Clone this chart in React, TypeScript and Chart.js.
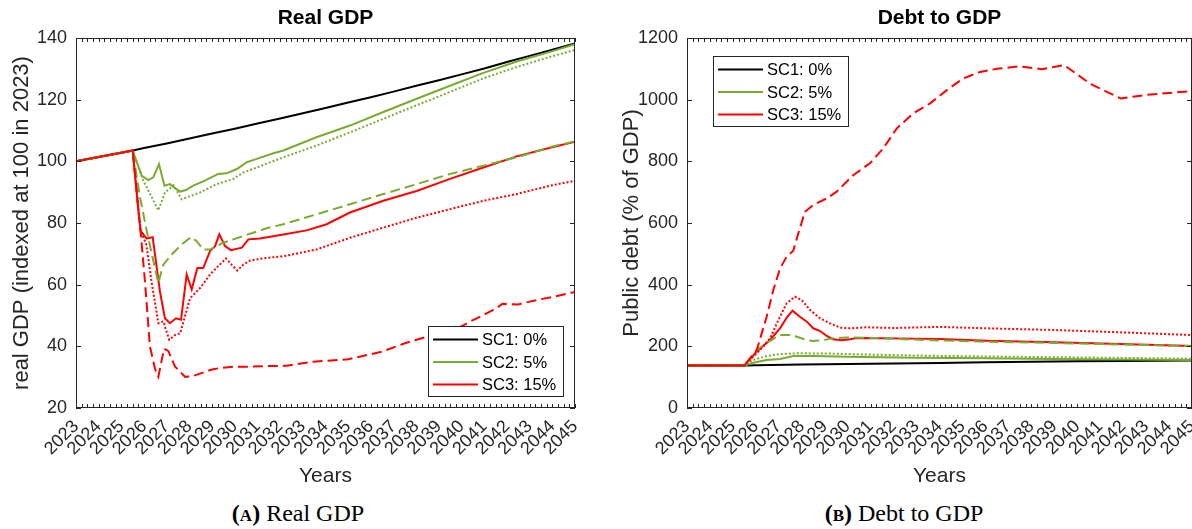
import React, { useEffect, useRef } from 'react';
import { Chart, registerables } from 'chart.js';

Chart.register(...registerables);

// ---------------- DATA ----------------
const scenarioLabels = ['SC1: 0%', 'SC2: 5%', 'SC3: 15%'];
const xTickYears = [2023, 2045];

// Real GDP (indexed at 100 in 2023)
const gdpPreYears = [2023, 2024, 2025, 2025.5];
const gdpPreValues = [100, 101.4, 102.8, 103.5];

const gdpSC1Years = [2026, 2027, 2028, 2029, 2030, 2031, 2032, 2033, 2034, 2035, 2036, 2037, 2038, 2039, 2040, 2041, 2042, 2043, 2044, 2045];
const gdpSC1Values = [104.3, 105.8, 107.4, 109.0, 110.6, 112.3, 113.9, 115.6, 117.3, 119.1, 120.8, 122.6, 124.5, 126.3, 128.2, 130.1, 132.2, 134.2, 136.2, 138.2];

const gdpSC2SolidYears = [2025.9, 2026.19, 2026.41, 2026.66, 2026.9, 2027.14, 2027.37, 2027.59, 2027.85, 2028.17, 2028.61, 2029.27, 2029.64, 2030.09, 2030.53, 2030.97, 2031.7, 2032.14, 2033.6, 2035.08, 2036.55, 2038.02, 2039.49, 2040.96, 2042.43, 2043.9, 2045];
const gdpSC2SolidValues = [95.3, 93.9, 94.8, 99.1, 92.1, 92.6, 91.3, 90.2, 90.7, 92.1, 93.5, 95.9, 96.1, 97.5, 99.7, 100.8, 102.6, 103.5, 107.8, 111.6, 116.0, 120.3, 124.5, 128.7, 132.4, 135.5, 138.0];

const gdpSC2DottedYears = [2025.97, 2026.63, 2026.92, 2027.3, 2027.66, 2028.47, 2029.2, 2029.94, 2030.38, 2030.97, 2032.14, 2033.6, 2035.08, 2036.55, 2038.02, 2039.49, 2040.96, 2042.43, 2043.9, 2045];
const gdpSC2DottedValues = [93.7, 84.1, 89.9, 92.2, 87.7, 89.9, 92.6, 94.3, 96.4, 98.0, 101.3, 105.1, 109.4, 113.8, 118.2, 122.5, 126.9, 130.6, 133.9, 136.1];

const gdpSC2DashedYears = [2025.82, 2026.12, 2026.4, 2026.63, 2026.85, 2027.22, 2027.66, 2028.07, 2028.32, 2028.61, 2028.91, 2029.49, 2030.38, 2031.4, 2032.14, 2033.6, 2035.08, 2036.55, 2038.02, 2039.49, 2040.96, 2042.43, 2043.9, 2045];
const gdpSC2DashedValues = [88.3, 77.4, 68.0, 60.5, 66.5, 69.8, 73.1, 75.4, 74.1, 71.4, 71.4, 73.6, 75.8, 78.3, 79.6, 82.8, 86.1, 89.4, 92.6, 95.9, 98.6, 101.3, 104.6, 106.5];

const gdpSC3SolidYears = [2025.75, 2025.85, 2026.11, 2026.38, 2026.7, 2026.92, 2027.14, 2027.41, 2027.63, 2027.88, 2028.1, 2028.35, 2028.61, 2028.91, 2029.13, 2029.32, 2029.57, 2029.83, 2030.31, 2030.6, 2031.11, 2032.14, 2033.17, 2034.05, 2035.08, 2036.55, 2038.02, 2039.49, 2040.96, 2042.43, 2043.9, 2045];
const gdpSC3SolidValues = [83.9, 77.4, 75.0, 75.4, 57.8, 49.1, 47.5, 49.1, 48.6, 63.3, 58.4, 65.4, 65.4, 70.9, 72.5, 76.3, 72.5, 71.2, 72.0, 74.7, 75.0, 76.3, 77.6, 79.6, 83.4, 87.2, 90.4, 94.3, 98.0, 101.6, 104.4, 106.4];

const gdpSC3DottedYears = [2025.85, 2026.1, 2026.33, 2026.63, 2026.85, 2027.11, 2027.37, 2027.59, 2028.03, 2028.47, 2028.91, 2029.27, 2029.61, 2029.86, 2030.11, 2030.38, 2030.67, 2031.4, 2032.14, 2033.6, 2035.08, 2036.55, 2038.02, 2039.49, 2040.96, 2042.43, 2043.9, 2045];
const gdpSC3DottedValues = [77.5, 73.0, 61.0, 47.5, 48.1, 42.1, 43.7, 44.2, 55.6, 58.9, 63.3, 66.0, 68.5, 66.5, 64.6, 66.5, 67.8, 68.7, 69.2, 71.4, 75.2, 78.5, 81.7, 84.5, 87.2, 89.4, 92.1, 93.7];

const gdpSC3DashedYears = [2025.85, 2026.04, 2026.26, 2026.48, 2026.63, 2026.88, 2027.07, 2027.37, 2027.81, 2028.17, 2028.91, 2029.35, 2029.94, 2030.67, 2031.41, 2032.29, 2033.46, 2035.0, 2036.5, 2037.5, 2038.5, 2040.0, 2040.5, 2041.0, 2041.5, 2041.8, 2042.5, 2043.0, 2043.5, 2044.0, 2044.5, 2045];
const gdpSC3DashedValues = [77.0, 61.1, 39.9, 32.8, 30.1, 39.2, 38.5, 33.4, 30.1, 30.4, 32.3, 33.0, 33.4, 33.4, 33.6, 33.7, 35.0, 35.8, 38.3, 41.0, 43.2, 46.5, 48.5, 50.3, 52.2, 53.8, 53.6, 54.5, 55.3, 56.0, 56.8, 57.6];

// Public debt (% of GDP)
const debtPreYears = [2023, 2024, 2025, 2025.5];
const debtPreValues = [138, 138, 138, 138];

const debtSC1Years = [2026, 2028, 2030, 2032, 2034, 2036, 2038, 2040, 2042, 2045];
const debtSC1Values = [139, 141, 143, 144.5, 146, 148, 150, 151.5, 152.5, 154];

const debtSC2SolidYears = [2025.89, 2026.47, 2027.05, 2027.63, 2028.5, 2030, 2033, 2036, 2039, 2042, 2045];
const debtSC2SolidValues = [147, 155.7, 159, 168.6, 169, 166, 163, 161, 159, 157.5, 155.5];

const debtSC2DottedYears = [2025.89, 2026.47, 2027.05, 2027.78, 2029, 2031, 2034, 2038, 2042, 2045];
const debtSC2DottedValues = [155.7, 168.6, 175, 177.3, 177, 173, 169, 165.5, 162.5, 160];

const debtSC2DashedYears = [2026.04, 2026.62, 2027.05, 2027.6, 2027.78, 2028.22, 2028.5, 2028.94, 2029.37, 2029.96, 2030.8, 2032.14, 2034.02, 2036.06, 2038.96, 2041.87, 2045];
const debtSC2DashedValues = [188, 218, 236.7, 236.7, 231, 220.5, 217, 220.5, 226, 229, 228, 223.8, 219, 215, 211, 206, 201];

const debtSC3SolidYears = [2026.03, 2026.62, 2027.05, 2027.37, 2027.6, 2027.92, 2028.22, 2028.5, 2028.8, 2029.09, 2029.37, 2029.74, 2030.1, 2030.39, 2031.41, 2032.86, 2034.0, 2036.06, 2038.96, 2041.87, 2045];
const debtSC3SolidValues = [182.6, 220.5, 258.5, 296, 315.6, 296, 280, 258.5, 249.7, 233.5, 222.8, 219.5, 222.8, 227, 226, 225, 224, 218.3, 213, 207.5, 201];

const debtSC3DottedYears = [2026.18, 2026.62, 2026.98, 2027.34, 2027.7, 2028.0, 2028.36, 2028.8, 2029.23, 2029.67, 2030.1, 2030.83, 2032.0, 2034.02, 2036.06, 2038.96, 2041.87, 2045];
const debtSC3DottedValues = [188, 226, 285, 339.5, 361, 350, 317.8, 290.9, 274.7, 260.5, 258.5, 261.7, 259.5, 263, 258.5, 253, 245.5, 236.5];

const debtSC3DashedYears = [2026.04, 2026.47, 2026.76, 2027.05, 2027.34, 2027.63, 2027.85, 2028.14, 2028.5, 2029.09, 2029.52, 2030.25, 2030.97, 2031.55, 2032.14, 2032.86, 2033.59, 2034.32, 2035.04, 2035.77, 2036.5, 2037.46, 2038.45, 2039.43, 2040.6, 2041.9, 2043.05, 2045];
const debtSC3DashedValues = [188, 296, 382.7, 452, 490.7, 510, 566.5, 636.6, 658.3, 680, 701.5, 755.6, 793.6, 842, 907, 955.7, 988, 1031, 1069, 1090, 1100, 1108, 1099, 1112, 1050, 1004, 1016, 1028];

// ---------------- STYLE ----------------
const FONT = '"Liberation Sans", Arial, Helvetica, sans-serif';
const AXIS_COLOR = '#262626';
const GREEN = '#77AC30';
const RED = '#FF0000';
const BLACK = '#000000';
const scenarioColors = [BLACK, GREEN, RED];
const DASH = [10, 5];
const DOT = [2, 2];

const CANVAS_W = 596;
const CANVAS_H = 495;

type Pt = { x: number; y: number };
const toPoints = (preX: number[], preY: number[], xs: number[], ys: number[]): Pt[] =>
  preX.map((x, i) => ({ x, y: preY[i] })).concat(xs.map((x, i) => ({ x, y: ys[i] })));

const framePlugin = {
  id: 'matlabFrame',
  afterDatasetsDraw(chart: any) {
    const { ctx, chartArea: a, scales } = chart;
    const xs = scales.x;
    const ys = scales.y;
    ctx.save();
    ctx.strokeStyle = AXIS_COLOR;
    ctx.lineWidth = 1;
    ctx.setLineDash([]);
    ctx.beginPath();
    for (let q = Math.round(xs.min * 4); q <= Math.round(xs.max * 4); q++) {
      const px = Math.round(xs.getPixelForValue(q / 4)) + 0.5;
      ctx.moveTo(px, a.bottom);
      ctx.lineTo(px, a.bottom - 4);
      ctx.moveTo(px, a.top);
      ctx.lineTo(px, a.top + 4);
    }
    ys.ticks.forEach((t: any) => {
      const py = Math.round(ys.getPixelForValue(t.value)) + 0.5;
      ctx.moveTo(a.left, py);
      ctx.lineTo(a.left + 5, py);
      ctx.moveTo(a.right, py);
      ctx.lineTo(a.right - 5, py);
    });
    ctx.stroke();
    ctx.strokeRect(Math.round(a.left) + 0.5, Math.round(a.top) + 0.5, Math.round(a.right - a.left) - 1, Math.round(a.bottom - a.top) - 1);
    ctx.restore();
  },
};

const makeLegendPlugin = (corner: 'bottomRight' | 'topLeft', dx: number, dy: number) => ({
  id: 'scenarioLegend',
  afterDraw(chart: any) {
    const { ctx, chartArea: a } = chart;
    const w = 135;
    const h = 70;
    const left = Math.round(corner === 'bottomRight' ? a.right - dx - w : a.left + dx);
    const top = Math.round(corner === 'bottomRight' ? a.bottom - dy - h : a.top + dy);
    ctx.save();
    ctx.setLineDash([]);
    ctx.fillStyle = '#ffffff';
    ctx.fillRect(left, top, w, h);
    ctx.strokeStyle = AXIS_COLOR;
    ctx.lineWidth = 1;
    ctx.strokeRect(left + 0.5, top + 0.5, w, h);
    ctx.font = `16.5px ${FONT}`;
    ctx.textBaseline = 'middle';
    ctx.textAlign = 'left';
    scenarioLabels.forEach((lab, i) => {
      const cy = top + 13.5 + i * 22.5;
      ctx.strokeStyle = scenarioColors[i];
      ctx.lineWidth = 2;
      ctx.beginPath();
      ctx.moveTo(left + 5, cy);
      ctx.lineTo(left + 50, cy);
      ctx.stroke();
      ctx.fillStyle = '#000';
      ctx.fillText(lab, left + 54, cy + 1);
    });
    ctx.restore();
  },
});

type SeriesDef = { data: Pt[]; color: string; dash: number[] };

function buildConfig(opts: {
  series: SeriesDef[];
  title: string;
  yTitle: string;
  yMin: number;
  yMax: number;
  yStep: number;
  yAxisWidth: number;
  yTitlePad: number;
  padRight: number;
  legend: any;
}) {
  const n = opts.series.length;
  const datasets = opts.series.map((s, i) => ({
    data: s.data,
    borderColor: s.color,
    backgroundColor: s.color,
    borderWidth: 2,
    borderDash: s.dash,
    borderCapStyle: 'butt',
    pointRadius: 0,
    tension: 0,
    fill: false,
    order: n - i,
  }));
  return {
    type: 'line',
    data: { datasets },
    options: {
      responsive: false,
      animation: false,
      events: [],
      layout: { padding: { left: 0, right: opts.padRight, top: 0, bottom: 0 } },
      plugins: {
        legend: { display: false },
        tooltip: { enabled: false },
        title: {
          display: true,
          text: opts.title,
          fullSize: false,
          color: '#000',
          font: { family: FONT, size: 21, weight: 'bold', lineHeight: 1.2 },
          padding: { top: 5.4, bottom: 7.4 },
        },
      },
      scales: {
        x: {
          type: 'linear',
          min: xTickYears[0],
          max: xTickYears[1],
          grid: { display: false, drawTicks: false },
          border: { display: false },
          ticks: {
            stepSize: 1,
            autoSkip: false,
            minRotation: 45,
            maxRotation: 45,
            padding: 8,
            color: AXIS_COLOR,
            font: { family: FONT, size: 18 },
            callback: (v: any) => String(Math.round(Number(v))),
          },
          title: {
            display: true,
            text: 'Years',
            color: AXIS_COLOR,
            font: { family: FONT, size: 21, lineHeight: 1.2 },
            padding: { top: 0, bottom: 6.4 },
          },
          afterFit: (s: any) => {
            s.height = CANVAS_H - 408;
            s.paddingLeft = 0;
            s.paddingRight = 0;
          },
        },
        y: {
          type: 'linear',
          min: opts.yMin,
          max: opts.yMax,
          grid: { display: false, drawTicks: false },
          border: { display: false },
          ticks: {
            stepSize: opts.yStep,
            padding: 9,
            color: AXIS_COLOR,
            font: { family: FONT, size: 18 },
            callback: (v: any) => String(v),
          },
          title: {
            display: true,
            text: opts.yTitle,
            color: AXIS_COLOR,
            font: { family: FONT, size: 22, lineHeight: 1.2 },
            padding: { top: opts.yTitlePad, bottom: 0 },
          },
          afterFit: (s: any) => {
            s.width = opts.yAxisWidth;
            s.paddingTop = 0;
            s.paddingBottom = 0;
          },
        },
      },
    },
    plugins: [framePlugin, opts.legend],
  };
}

function gdpConfig() {
  const P = (xs: number[], ys: number[]) => toPoints(gdpPreYears, gdpPreValues, xs, ys);
  return buildConfig({
    series: [
      { data: P(gdpSC1Years, gdpSC1Values), color: BLACK, dash: [] },
      { data: P(gdpSC2SolidYears, gdpSC2SolidValues), color: GREEN, dash: [] },
      { data: P(gdpSC3SolidYears, gdpSC3SolidValues), color: RED, dash: [] },
      { data: P(gdpSC2DashedYears, gdpSC2DashedValues), color: GREEN, dash: DASH },
      { data: P(gdpSC3DashedYears, gdpSC3DashedValues), color: RED, dash: DASH },
      { data: P(gdpSC2DottedYears, gdpSC2DottedValues), color: GREEN, dash: DOT },
      { data: P(gdpSC3DottedYears, gdpSC3DottedValues), color: RED, dash: DOT },
    ],
    title: 'Real GDP',
    yTitle: 'real GDP (indexed at 100 in 2023)',
    yMin: 20,
    yMax: 140,
    yStep: 20,
    yAxisWidth: 76,
    yTitlePad: 9,
    padRight: CANVAS_W - 575,
    legend: makeLegendPlugin('bottomRight', 12, 12),
  });
}

function debtConfig() {
  const P = (xs: number[], ys: number[]) => toPoints(debtPreYears, debtPreValues, xs, ys);
  return buildConfig({
    series: [
      { data: P(debtSC1Years, debtSC1Values), color: BLACK, dash: [] },
      { data: P(debtSC2SolidYears, debtSC2SolidValues), color: GREEN, dash: [] },
      { data: P(debtSC3SolidYears, debtSC3SolidValues), color: RED, dash: [] },
      { data: P(debtSC2DashedYears, debtSC2DashedValues), color: GREEN, dash: DASH },
      { data: P(debtSC3DashedYears, debtSC3DashedValues), color: RED, dash: DASH },
      { data: P(debtSC2DottedYears, debtSC2DottedValues), color: GREEN, dash: DOT },
      { data: P(debtSC3DottedYears, debtSC3DottedValues), color: RED, dash: DOT },
    ],
    title: 'Debt to GDP',
    yTitle: 'Public debt (% of GDP)',
    yMin: 0,
    yMax: 1200,
    yStep: 200,
    yAxisWidth: 91,
    yTitlePad: 23,
    padRight: 0,
    legend: makeLegendPlugin('topLeft', 26, 18),
  });
}

function ChartPanel({ make, left }: { make: () => any; left: number }) {
  const ref = useRef<HTMLCanvasElement>(null);
  useEffect(() => {
    const chart = new Chart(ref.current as HTMLCanvasElement, make());
    return () => chart.destroy();
  }, []);
  return (
    <div style={{ position: 'absolute', left, top: 0, width: CANVAS_W, height: CANVAS_H }}>
      <canvas ref={ref} width={CANVAS_W} height={CANVAS_H} style={{ width: CANVAS_W, height: CANVAS_H, display: 'block' }} />
    </div>
  );
}

const captionStyle = (center: number): React.CSSProperties => ({
  position: 'absolute',
  top: 498,
  left: center,
  transform: 'translateX(-50%)',
  fontFamily: '"Liberation Serif", "Times New Roman", serif',
  fontSize: 24,
  lineHeight: '30px',
  whiteSpace: 'nowrap',
  color: '#000',
});

export default function App() {
  return (
    <div style={{ position: 'absolute', left: 0, top: 0, width: 1192, height: 529, background: '#fff', overflow: 'hidden' }}>
      <ChartPanel make={gdpConfig} left={0} />
      <ChartPanel make={debtConfig} left={596} />
      <div style={captionStyle(298)}>
        <b>(<span style={{ fontVariant: 'small-caps' }}>a</span>)</b> Real GDP
      </div>
      <div style={captionStyle(904)}>
        <b>(<span style={{ fontVariant: 'small-caps' }}>b</span>)</b> Debt to GDP
      </div>
    </div>
  );
}
